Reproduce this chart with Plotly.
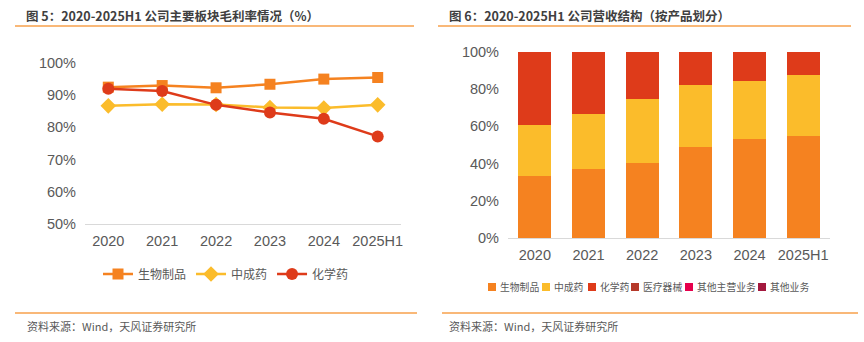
import plotly.graph_objects as go

W, H = 864, 342

years = ["2020", "2021", "2022", "2023", "2024", "2025H1"]

# Left: gross margin by segment (%)
margin_bio = [92.5, 93.0, 92.3, 93.4, 95.0, 95.5]
margin_tcm = [86.7, 87.2, 87.1, 86.2, 86.0, 87.0]
margin_chem = [92.0, 91.3, 87.0, 84.6, 82.7, 77.2]

# Right: revenue structure (%)
rev_bio = [33.3, 36.9, 40.5, 49.1, 53.0, 55.0]
rev_tcm = [27.5, 29.8, 34.4, 33.2, 31.6, 32.5]
rev_chem = [39.2, 33.3, 25.1, 17.7, 15.4, 12.5]
rev_device = [0.0, 0.0, 0.0, 0.0, 0.0, 0.0]
rev_other_main = [0.0, 0.0, 0.0, 0.0, 0.0, 0.0]
rev_other = [0.0, 0.0, 0.0, 0.0, 0.0, 0.0]

left_ticks = [50, 60, 70, 80, 90, 100]
left_ticktext = ["50%", "60%", "70%", "80%", "90%", "100%"]
right_ticks = [0, 20, 40, 60, 80, 100]
right_ticktext = ["0%", "20%", "40%", "60%", "80%", "100%"]

C_BIO = "#F58220"
C_TCM = "#FBBC2B"
C_CHEM = "#DE3B1A"
C_DEV = "#B5392A"
C_OM = "#E6004C"
C_OT = "#A3183E"

def px(x):
    return x / W

def py(y):
    return 1 - y / H

fig = go.Figure()

line_specs = [
    ("生物制品", margin_bio, C_BIO, "square", 11),
    ("中成药", margin_tcm, C_TCM, "diamond", 12),
    ("化学药", margin_chem, C_CHEM, "circle", 12),
]
for name, vals, col, sym, sz in line_specs:
    fig.add_trace(go.Scatter(
        x=years, y=vals, name=name, mode="lines+markers",
        line=dict(color=col, width=2.5),
        marker=dict(symbol=sym, size=sz, color=col),
        xaxis="x", yaxis="y", legend="legend",
    ))

bar_specs = [
    ("生物制品", rev_bio, C_BIO),
    ("中成药", rev_tcm, C_TCM),
    ("化学药", rev_chem, C_CHEM),
    ("医疗器械", rev_device, C_DEV),
    ("其他主营业务", rev_other_main, C_OM),
    ("其他业务", rev_other, C_OT),
]
for name, vals, col in bar_specs:
    fig.add_trace(go.Bar(
        x=years, y=vals, name=name, marker=dict(color=col, line=dict(width=0)),
        xaxis="x2", yaxis="y2", showlegend=False, width=0.62,
    ))

tickfont = dict(family="Liberation Sans, Arial", size=14.5, color="#595959")
cjk = "Noto Sans CJK SC"

common_x = dict(type="category", categoryorder="array", categoryarray=years,
                showgrid=False, showline=True, linecolor="#D9D9D9", linewidth=1,
                ticks="", tickfont=tickfont, tickangle=0, automargin=False,
                ticklabelstandoff=4)
common_y = dict(showgrid=False, zeroline=False, showline=False, tickfont=tickfont,
                ticks="", automargin=False, ticklabelstandoff=8)

fig.update_layout(
    template="none",
    width=W, height=H, margin=dict(l=0, r=0, t=0, b=0, autoexpand=False),
    paper_bgcolor="white", plot_bgcolor="white",
    barmode="stack", showlegend=True, hovermode=False,
    xaxis=dict(domain=[px(85), px(401)], anchor="y", **common_x),
    yaxis=dict(domain=[py(224), py(63)], anchor="x", range=[50, 100],
               tickvals=left_ticks, ticktext=left_ticktext, **common_y),
    xaxis2=dict(domain=[px(508), px(830)], anchor="y2", **common_x),
    yaxis2=dict(domain=[py(238), py(52)], anchor="x2", range=[0, 100],
                tickvals=right_ticks, ticktext=right_ticktext, **common_y),
    legend=dict(orientation="h", x=px(98), y=py(274), xanchor="left", yanchor="middle",
                xref="container", yref="container",
                font=dict(family=cjk, size=12, color="#595959"),
                bgcolor="rgba(0,0,0,0)", borderwidth=0, itemwidth=30,
                traceorder="normal"),
)

# Right-hand legend (compact, one row)
legend2_x = [488, 542, 588, 631, 685, 758]
for (name, _, col), lx in zip(bar_specs, legend2_x):
    fig.add_shape(type="rect", xref="paper", yref="paper",
                  x0=px(lx), x1=px(lx + 8), y0=py(291), y1=py(283),
                  fillcolor=col, line=dict(width=0))
    fig.add_annotation(text=name, x=px(lx + 10), y=py(287), xref="paper", yref="paper",
                       xanchor="left", yanchor="middle", showarrow=False,
                       font=dict(family=cjk, size=9.8, color="#595959"))

# Titles
fig.add_annotation(text="<b>图 5：2020-2025H1 公司主要板块毛利率情况（%）</b>",
                   x=px(24), y=py(15), xref="paper", yref="paper",
                   xanchor="left", yanchor="middle", showarrow=False,
                   font=dict(family=cjk, size=12.5, color="#404040"))
fig.add_annotation(text="<b>图 6：2020-2025H1 公司营收结构（按产品划分）</b>",
                   x=px(447), y=py(15), xref="paper", yref="paper",
                   xanchor="left", yanchor="middle", showarrow=False,
                   font=dict(family=cjk, size=12.5, color="#404040"))

# Footers
for x0 in (25, 447):
    fig.add_annotation(text="资料来源：Wind，天风证券研究所",
                       x=px(x0), y=py(326), xref="paper", yref="paper",
                       xanchor="left", yanchor="middle", showarrow=False,
                       font=dict(family=cjk, size=11, color="#595959"))

# Orange rules
for (x0, x1, y) in [(15, 414, 26), (438, 851, 26), (15, 417, 313), (442, 858, 313)]:
    fig.add_shape(type="line", xref="paper", yref="paper",
                  x0=px(x0), x1=px(x1), y0=py(y), y1=py(y),
                  line=dict(color="#F7A04B", width=1.5))

fig.write_html("out.html")
